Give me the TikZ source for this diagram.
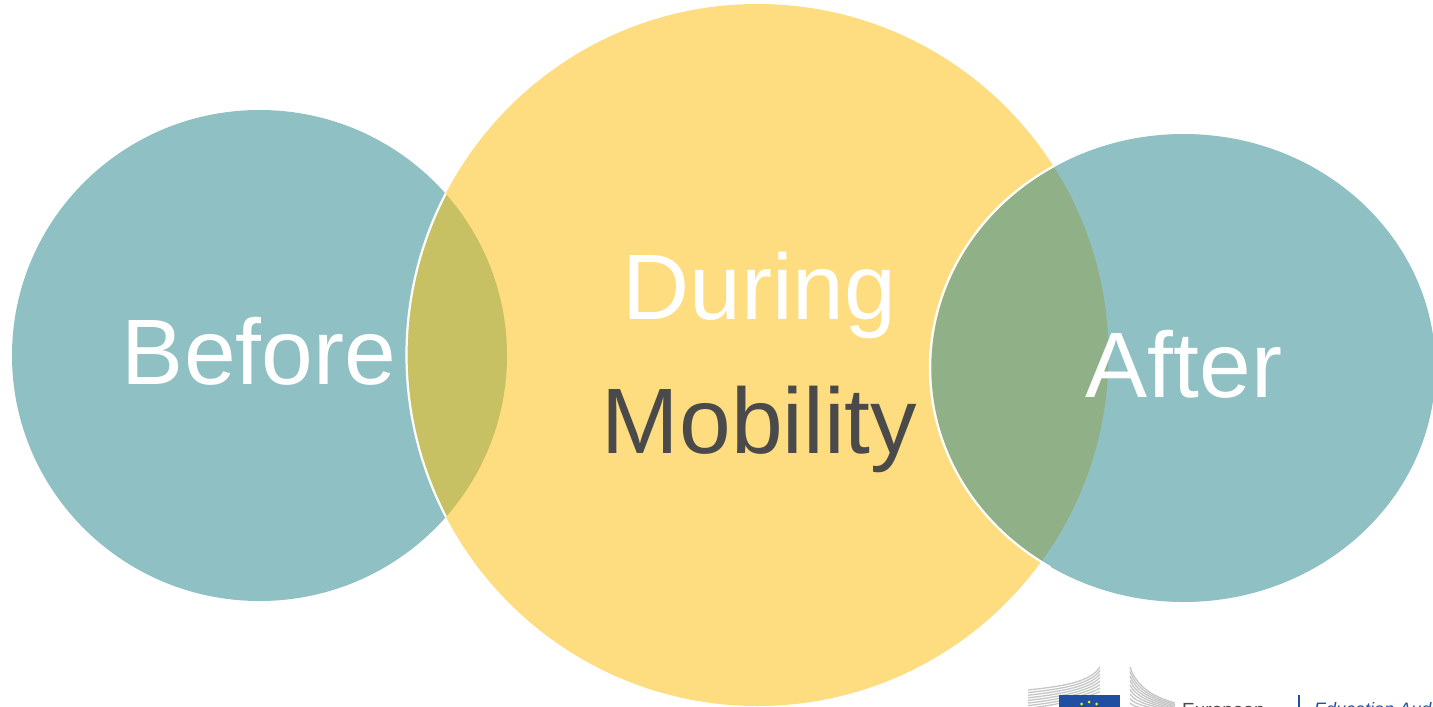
\documentclass[tikz,border=0pt]{standalone}
\usepackage{fontspec}
\setmainfont{Liberation Sans}
\usepackage{xcolor}
\usetikzlibrary{positioning}
\definecolor{tealfill}{HTML}{8FC0C3}
\definecolor{sunfill}{HTML}{FEDD80}
\definecolor{oliveoverlap}{HTML}{C8C164}
\definecolor{greenoverlap}{HTML}{90B187}
\definecolor{wingray}{HTML}{C6C6C6}
\definecolor{eublue}{HTML}{1F4FA3}
\definecolor{darktext}{HTML}{4A4A4A}

\begin{document}
\begin{tikzpicture}[x=1pt,y=-1pt,
    phase/.style={font=\fontsize{93}{93}\selectfont, text=white, inner sep=0pt},
    wing/.style={draw=wingray, line width=1.3pt}]
\useasboundingbox (0,0) rectangle (1433,707);
\clip (0,0) rectangle (1433,707);

% circles
\fill[tealfill] (259.5,355.5) ellipse [x radius=247.5, y radius=245.5];
\fill[sunfill] (757.5,355) circle [radius=351];
\begin{scope}
\clip (259.5,355.5) ellipse [x radius=247.5, y radius=245.5];
\fill[oliveoverlap] (757.5,355) circle [radius=351];
\draw[white, line width=2.2pt] (757.5,355) circle [radius=351];
\end{scope}
\fill[tealfill] (1183.5,368) ellipse [x radius=252, y radius=234];
\begin{scope}
\clip (757.5,355) circle [radius=351];
\fill[greenoverlap] (1183.5,368) ellipse [x radius=252, y radius=234];
\end{scope}
\draw[white, line width=2.2pt] (1054,166) arc [start angle=-120.5, end angle=-238.5, x radius=252, y radius=234];

% labels
\node (before) [phase] at (259,351) {Before};
\node (during) [phase] at (759.5,295) {During};
\node (mobility) [phase, text=darktext] at (759.5,429) {Mobility};
\node (after) [phase] at (1184,364.5) {After};

% logo, cut off by the page edge
\foreach \i in {0,...,7} {
  \draw[wing] (1028,{690+2.6*\i}) .. controls (1065,{686+2.6*\i}) and (1090,{682+2*\i}) .. (1100,{667+3.5*\i});
}
\foreach \i in {0,...,9} {
  \draw[wing] (1130,{667+4.5*\i}) .. controls (1136,{685+3*\i}) and (1150,{696+1.5*\i}) .. (1175,{703+1.5*\i});
}
\fill[eublue] (1059,695) rectangle (1120,715);
\foreach \sx/\sy in {1081.5/704,1089/702,1096.5/704} {
  \fill[yellow] (\sx,\sy) circle [radius=1.5];
}
\node (european) [anchor=base west, inner sep=0pt, text=darktext, font=\fontsize{19}{19}\selectfont] at (1182,716) {European};
\draw[eublue, line width=2.2pt] (1299,695) -- (1299,707);
\node (agency) [anchor=base west, inner sep=0pt, text=eublue, font=\fontsize{18}{18}\selectfont\itshape] at (1314,715) {Education Audiovisual};
\end{tikzpicture}
\end{document}
